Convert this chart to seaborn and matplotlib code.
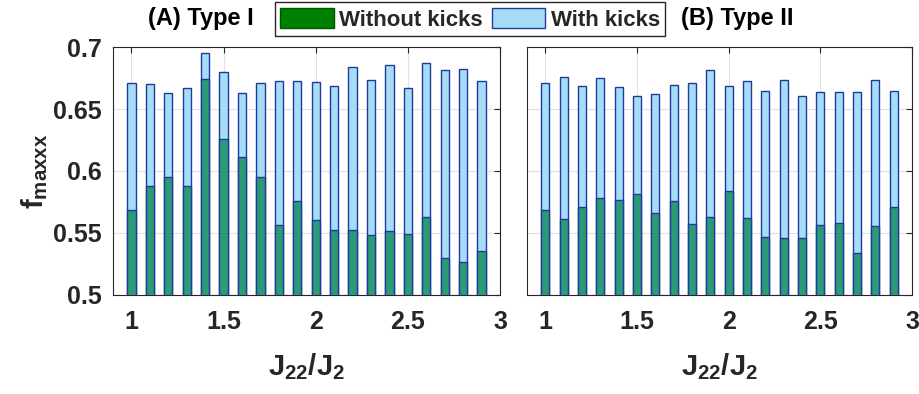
import numpy as np
import pandas as pd
import matplotlib
matplotlib.use("Agg")
import matplotlib.pyplot as plt
import seaborn as sns
from matplotlib.patches import Patch

ratio = [1.0, 1.1, 1.2, 1.3, 1.4, 1.5, 1.6, 1.7, 1.8, 1.9,
         2.0, 2.1, 2.2, 2.3, 2.4, 2.5, 2.6, 2.7, 2.8, 2.9]

# Type I
with_kicks_1 = [0.671, 0.6705, 0.6632, 0.6667, 0.6952, 0.6799, 0.6632, 0.6713, 0.6726, 0.6724,
                0.6718, 0.6683, 0.6842, 0.6737, 0.6858, 0.6672, 0.6871, 0.6818, 0.682, 0.6726]
without_kicks_1 = [0.5685, 0.5881, 0.5948, 0.5881, 0.6745, 0.6256, 0.6111, 0.595, 0.5566, 0.576,
                   0.5604, 0.5526, 0.5526, 0.5483, 0.5515, 0.5494, 0.5628, 0.5298, 0.5266, 0.5357]

# Type II
with_kicks_2 = [0.671, 0.6756, 0.6686, 0.6748, 0.6681, 0.6605, 0.6619, 0.6691, 0.6713, 0.6812,
                0.6686, 0.6726, 0.6643, 0.6732, 0.6603, 0.6635, 0.664, 0.6635, 0.6737, 0.6648]
without_kicks_2 = [0.5685, 0.5615, 0.5711, 0.5781, 0.577, 0.5816, 0.5663, 0.576, 0.5572, 0.5631,
                   0.5838, 0.5623, 0.5464, 0.5459, 0.5459, 0.5566, 0.5583, 0.5341, 0.5553, 0.5706]

titles = ["(A) Type I", "(B) Type II"]
xticks = [1, 1.5, 2, 2.5, 3]
xticklabels = ["1", "1.5", "2", "2.5", "3"]
yticks = [0.5, 0.55, 0.6, 0.65, 0.7]
yticklabels = ["0.5", "0.55", "0.6", "0.65", "0.7"]

sns.set_theme(style="white")
plt.rcParams["font.family"] = ["Liberation Sans", "DejaVu Sans"]
plt.rcParams["font.weight"] = "bold"
plt.rcParams["mathtext.fontset"] = "custom"
plt.rcParams["mathtext.rm"] = "Liberation Sans:bold"
plt.rcParams["mathtext.bf"] = "Liberation Sans:bold"
plt.rcParams["mathtext.it"] = "Liberation Sans:bold"

txt = "#262626"
light = "#a6dcf5"
green = "#2a9b74"
edge = "#1f3a9e"

fig = plt.figure(figsize=(9.2, 3.94), dpi=100)
ax1 = fig.add_axes([0.1228, 0.2513, 0.4207, 0.6294])
ax2 = fig.add_axes([0.5728, 0.2513, 0.4185, 0.6294])

panels = [(ax1, with_kicks_1, without_kicks_1), (ax2, with_kicks_2, without_kicks_2)]

for i, (ax, wk, wo) in enumerate(panels):
    df = pd.DataFrame({"ratio": ratio, "with": wk, "without": wo})
    sns.barplot(data=df, x="ratio", y="with", native_scale=True, width=0.45,
                color=light, edgecolor=edge, linewidth=1.0, saturation=1, ax=ax, zorder=2)
    sns.barplot(data=df, x="ratio", y="without", native_scale=True, width=0.45,
                color=green, edgecolor=edge, linewidth=1.0, saturation=1, ax=ax, zorder=3)
    ax.set_xlim(0.9, 3.0)
    ax.set_ylim(0.5, 0.7)
    ax.set_xticks(xticks)
    ax.set_xticklabels(xticklabels, fontsize=18, fontweight="bold", color=txt)
    ax.set_yticks(yticks)
    if i == 0:
        ax.set_yticklabels(yticklabels, fontsize=18, fontweight="bold", color=txt)
        ax.set_ylabel(r"f$_{\mathregular{maxxx}}$", fontsize=21, fontweight="bold", color=txt, labelpad=2)
    else:
        ax.set_yticklabels([])
        ax.set_ylabel("")
    ax.set_xlabel(r"J$_{\mathregular{22}}$/J$_{\mathregular{2}}$", fontsize=21, fontweight="bold",
                  color=txt, labelpad=12)
    ax.grid(True, color="#e0e0e0", linewidth=0.8, zorder=0)
    ax.set_axisbelow(True)
    ax.tick_params(direction="in", top=True, right=True, length=4, width=0.8, colors=txt,
                   labelcolor=txt)
    ax.tick_params(axis="x", pad=11)
    ax.tick_params(axis="y", pad=8)
    for s in ax.spines.values():
        s.set_color(txt)
        s.set_linewidth(0.8)

fig.text(0.161, 0.953, titles[0], fontsize=17, fontweight="bold", color="black", va="center")
fig.text(0.740, 0.953, titles[1], fontsize=17, fontweight="bold", color="black", va="center")

handles = [Patch(facecolor="#008000", edgecolor="#005500", label="Without kicks"),
           Patch(facecolor=light, edgecolor=edge, label="With kicks")]
fig.legend(handles=handles, loc="center", bbox_to_anchor=(0.511, 0.951), ncol=2,
           frameon=True, fancybox=False, edgecolor=txt, framealpha=1,
           prop={"weight": "bold", "size": 16}, handlelength=2.4, handleheight=1.0,
           handletextpad=0.25, columnspacing=0.4, borderpad=0.25, borderaxespad=0)

fig.savefig("out.png", dpi=100)
